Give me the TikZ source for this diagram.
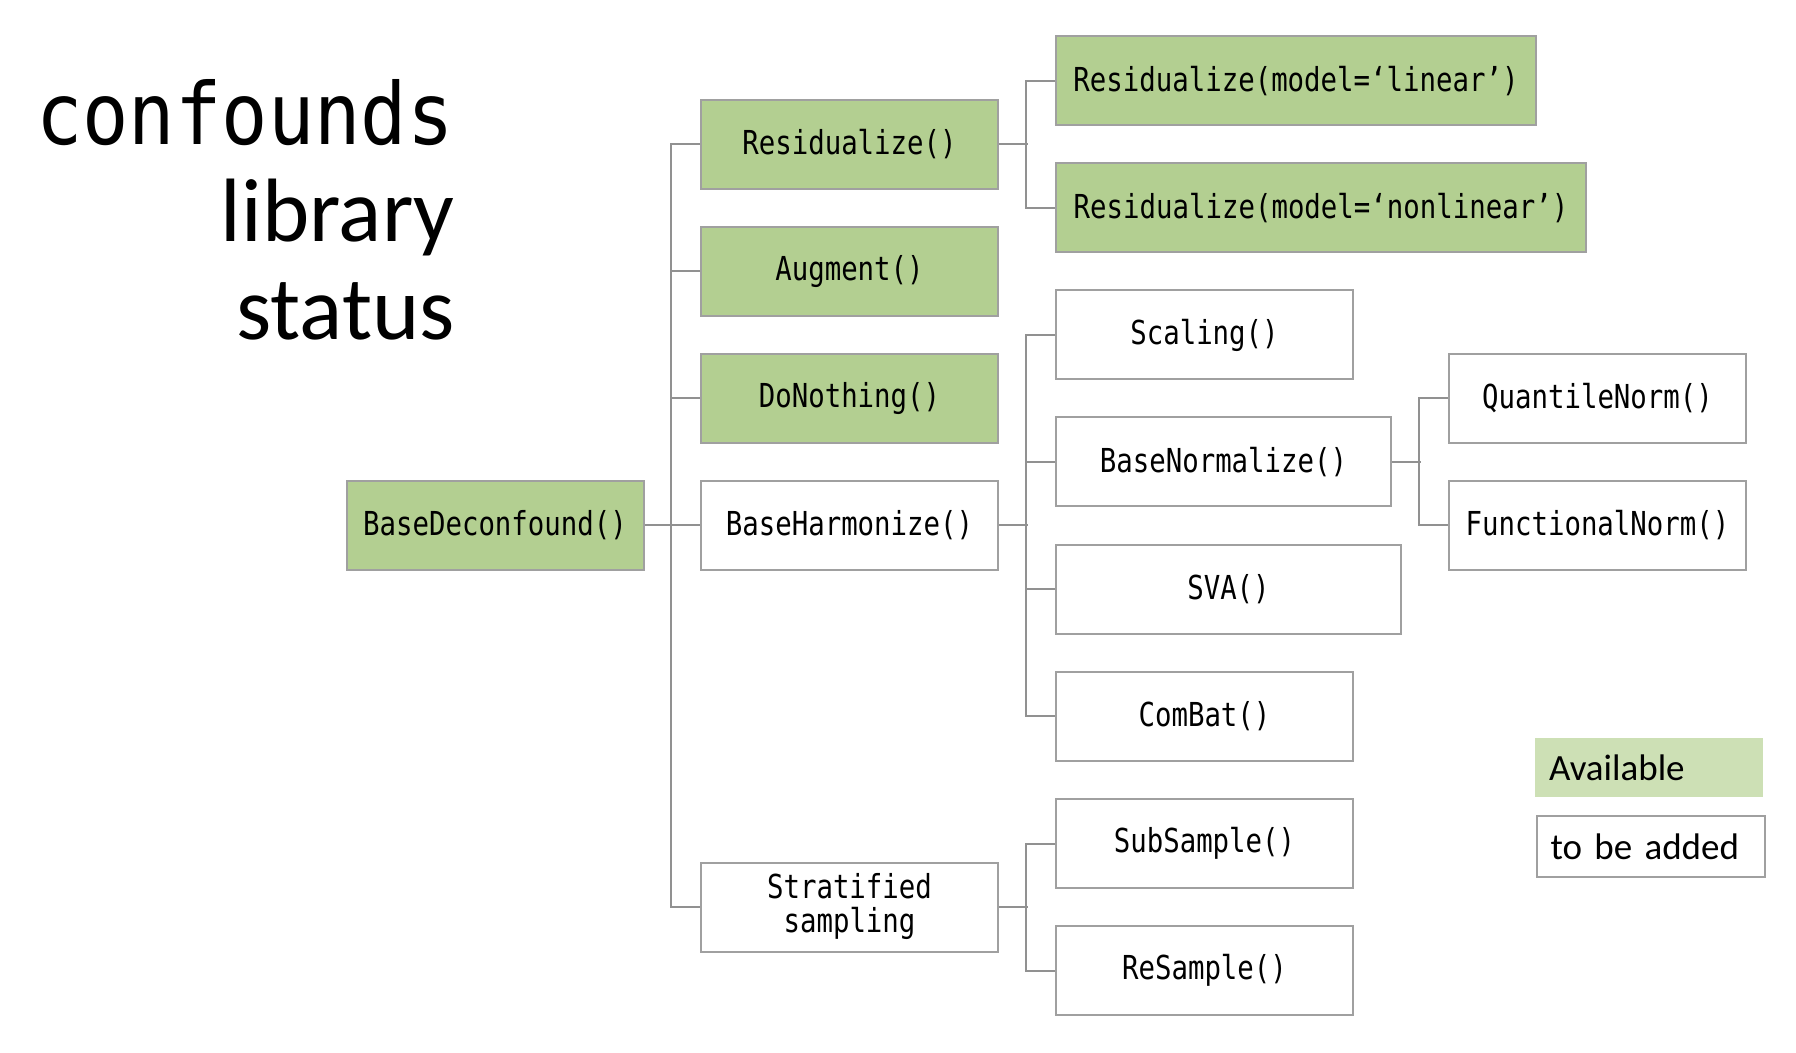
\documentclass[tikz,border=0pt]{standalone}
\usepackage{fontspec}
\setmainfont{Carlito}
\newfontfamily\codefont[FakeStretch=0.83]{DejaVu Sans Mono}
\newfontfamily\titlemono[FakeStretch=0.9]{DejaVu Sans Mono}
\usetikzlibrary{positioning}

\definecolor{availgreen}{RGB}{179,207,145}
\definecolor{legendgreen}{RGB}{205,224,181}
\definecolor{boxborder}{RGB}{160,160,160}
\definecolor{linkgray}{RGB}{145,145,145}

\begin{document}
\begin{tikzpicture}[x=0.5pt,y=-0.5pt]
	
	\tikzset{
		libbox/.style={
			draw=boxborder, line width=1pt,
			minimum width=#1, minimum height=44.5pt,
			inner sep=0pt, align=center,
			font=\codefont\fontsize{16.5}{17}\selectfont
		},
		libbox/.default=148.5pt,
		availbox/.style={libbox=#1, fill=availgreen},
		availbox/.default=148.5pt,
		todobox/.style={libbox=#1, fill=white},
		todobox/.default=148.5pt,
		link/.style={draw=linkgray, line width=1pt},
		legendbox/.style={
			text width=100pt, inner xsep=7pt, align=left,
			minimum height=#1, font=\fontsize{18.5}{20}\selectfont
		}
	}
	
	\useasboundingbox (0,0) rectangle (1796,1053);
	
	% title
	\node[anchor=base east, inner sep=0pt, font=\titlemono\fontsize{42.8}{44}\selectfont] (ttlA) at (454,145) {confounds};
	\node[anchor=base east, inner sep=0pt, font=\fontsize{45}{46}\selectfont] (ttlB) at (455,242) {library};
	\node[anchor=base east, inner sep=0pt, font=\fontsize{45}{46}\selectfont] (ttlC) at (455,340) {status};
	
	% root and first level
	\node[availbox] (root) at (495,525.5) {BaseDeconfound()};
	\node[availbox] (res) at (849.5,144.5) {Residualize()};
	\node[availbox] (aug) at (849.5,271.5) {Augment()};
	\node[availbox] (noth) at (849.5,398.5) {DoNothing()};
	\node[todobox] (harm) at (849.5,525.5) {BaseHarmonize()};
	\node[todobox] (strat) at (849.5,907) {Stratified\\sampling};
	
	% second level
	\node[availbox=240pt] (lin) at (1296,81) {Residualize(model=‘linear’)};
	\node[availbox=265pt] (nonlin) at (1321,208) {Residualize(model=‘nonlinear’)};
	\node[todobox] (scal) at (1204.5,335) {Scaling()};
	\node[todobox=167.5pt] (bnorm) at (1223.5,462) {BaseNormalize()};
	\node[todobox=172.5pt] (sva) at (1228.5,589.5) {SVA()};
	\node[todobox] (combat) at (1204.5,716.5) {ComBat()};
	\node[todobox] (subs) at (1204.5,843.5) {SubSample()};
	\node[todobox] (resam) at (1204.5,970.5) {ReSample()};
	
	% third level
	\node[todobox] (qnorm) at (1597.5,398.5) {QuantileNorm()};
	\node[todobox] (fnorm) at (1597.5,525.5) {FunctionalNorm()};
	
	% connectors
	\draw[link] (root) -- (harm);
	\draw[link] (res.west) -- ++(-29,0) |- (strat.west);
	\foreach \kid in {aug,noth,bnorm,sva}
		\draw[link] (\kid.west) -- ++(-29,0);
	\foreach \mom in {res,harm,strat,bnorm}
		\draw[link] (\mom.east) -- ++(29,0);
	\draw[link] (lin.west) -- ++(-29,0) |- (nonlin.west);
	\draw[link] (scal.west) -- ++(-29,0) |- (combat.west);
	\draw[link] (subs.west) -- ++(-29,0) |- (resam.west);
	\draw[link] (qnorm.west) -- ++(-29,0) |- (fnorm.west);
	
	% legend
	\node[legendbox=29.5pt, fill=legendgreen] (legA) at (1649,767.5) {Available};
	\node[legendbox=30.5pt, draw=boxborder, line width=1pt] (legB) at (1650.5,846.5) {to be added};
	
\end{tikzpicture}
\end{document}
